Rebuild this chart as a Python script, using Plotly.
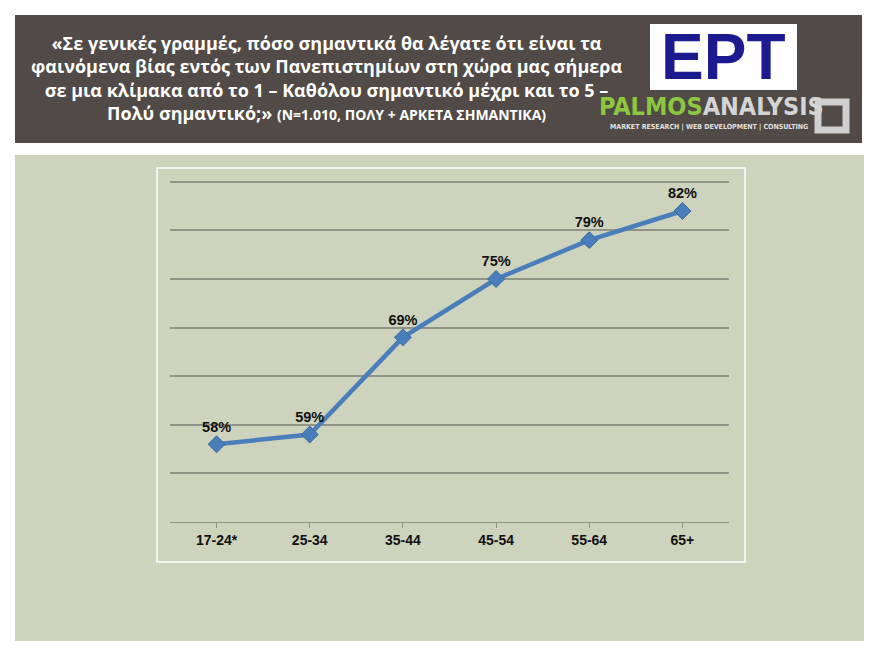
import plotly.graph_objects as go

W, H = 880, 660

age_groups = ["17-24*", "25-34", "35-44", "45-54", "55-64", "65+"]
percent_values = [58, 59, 69, 75, 79, 82]
y_ticks = [50, 55, 60, 65, 70, 75, 80, 85]


def px(x):
    return x / W


def py(y):
    return 1 - y / H


fig = go.Figure()

fig.add_trace(go.Scatter(
    x=age_groups,
    y=percent_values,
    mode="lines+markers+text",
    line=dict(color="#4a7ebb", width=4.5),
    marker=dict(symbol="diamond", size=13, color="#4a7ebb",
                line=dict(color="#3b6aa0", width=1)),
    text=[f"<b>{v}%</b>" for v in percent_values],
    textposition="top center",
    textfont=dict(family="Liberation Sans", size=14.5, color="#111111"),
    cliponaxis=False,
    showlegend=False,
))

shapes = [
    # header band
    dict(type="rect", xref="paper", yref="paper", x0=px(15), x1=px(862),
         y0=py(143), y1=py(15), fillcolor="#514a46", line_width=0, layer="below"),
    # green panel
    dict(type="rect", xref="paper", yref="paper", x0=px(15), x1=px(864),
         y0=py(641), y1=py(155), fillcolor="#cdd3bc", line_width=0, layer="below"),
    # chart frame
    dict(type="rect", xref="paper", yref="paper", x0=px(157), x1=px(745),
         y0=py(562), y1=py(168), line=dict(color="white", width=1.5), layer="below"),
    # logo box
    dict(type="rect", xref="paper", yref="paper", x0=px(650), x1=px(797),
         y0=py(90), y1=py(24), fillcolor="white", line_width=0),
    # logo square
    dict(type="rect", xref="paper", yref="paper", x0=px(818), x1=px(846),
         y0=py(130), y1=py(102), line=dict(color="#cfcfcf", width=7)),
]

annotations = [
    dict(text="<b>«Σε γενικές γραμμές, πόσο σημαντικά θα λέγατε ότι είναι τα<br>"
              "φαινόμενα βίας εντός των Πανεπιστημίων στη χώρα μας σήμερα<br>"
              "σε μια κλίμακα από το 1 – Καθόλου σημαντικό μέχρι και το 5 –<br>"
              "Πολύ σημαντικό;» <span style='font-size:14px'>(N=1.010, ΠΟΛΥ + ΑΡΚΕΤΑ ΣΗΜΑΝΤΙΚΑ)</span></b>",
         x=px(326), y=py(78), xref="paper", yref="paper", showarrow=False,
         xanchor="center", yanchor="middle",
         align="center", font=dict(family="Open Sans", size=18, color="white")),
    dict(text="<b>EPT</b>", x=px(723), y=py(57), xref="paper", yref="paper",
         xanchor="center", yanchor="middle",
         showarrow=False, font=dict(family="Liberation Sans", size=64, color="#1b1b8f")),
    dict(text="<b><span style='color:#8dc63f'>PALMOS</span>"
              "<span style='color:#d4d4d4'>ANALYSIS</span></b>",
         x=px(711), y=py(106), xref="paper", yref="paper", showarrow=False,
         xanchor="center", yanchor="middle",
         font=dict(family="DejaVu Sans Condensed", size=25)),
    dict(text="<b>MARKET RESEARCH | WEB DEVELOPMENT | CONSULTING</b>",
         x=px(709), y=py(127), xref="paper", yref="paper", showarrow=False,
         xanchor="center", yanchor="middle",
         font=dict(family="DejaVu Sans Condensed", size=7, color="#e0e0e0")),
]

fig.update_layout(
    width=W, height=H,
    margin=dict(l=0, r=0, t=0, b=0),
    paper_bgcolor="white",
    plot_bgcolor="rgba(0,0,0,0)",
    shapes=shapes,
    annotations=annotations,
    xaxis=dict(domain=[px(170), px(729)], range=[-0.5, 5.5],
               showgrid=False, showline=True, linecolor="#8f9487",
               ticks="outside", ticklen=5, tickcolor="#8f9487",
               tickfont=dict(family="Liberation Sans", size=14, color="#111111"),
               tickprefix="<b>", ticksuffix="</b>"),
    yaxis=dict(domain=[py(522), py(177)], range=[50, 85.5], tickvals=y_ticks,
               showticklabels=False, showgrid=True, gridcolor="#8f9487",
               gridwidth=1.5, zeroline=False, showline=False),
)

fig.write_html("out.html", config={"displayModeBar": False},
               post_script="document.body.style.margin='0';")
